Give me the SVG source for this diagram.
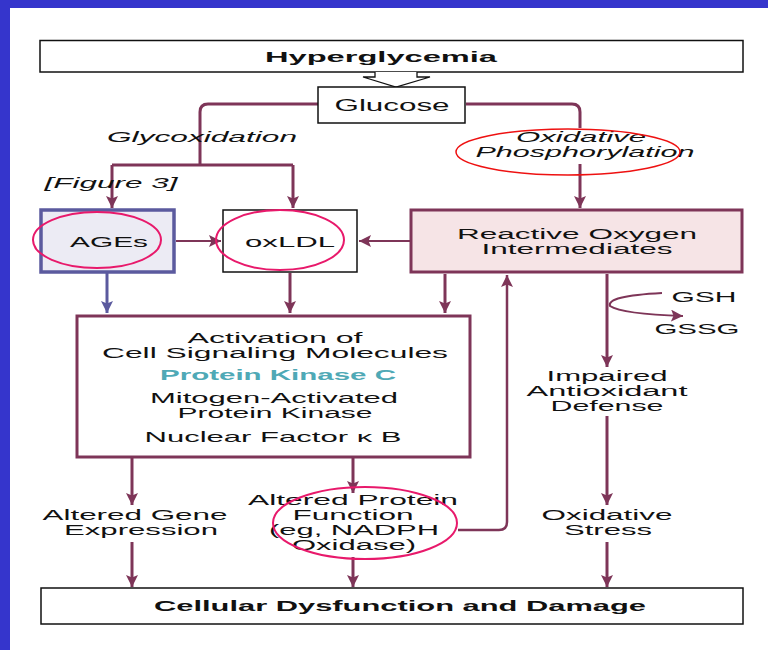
<svg xmlns="http://www.w3.org/2000/svg" width="768" height="650" viewBox="0 0 768 650">
<style>
text{font-family:"Liberation Sans",Arial,sans-serif;font-size:15px;fill:#111;text-anchor:middle}
.s{font-size:14px}
.b{font-weight:bold}
.i{font-style:italic}
.pkc{fill:#4fa9b6;font-weight:bold}
.c{fill:none;stroke:#7e3558;stroke-width:3}
.cb{fill:none;stroke:#5b5a9e;stroke-width:3}
.circ{fill:none;stroke:#e8196b;stroke-width:2}
.box{fill:#fff;stroke:#111;stroke-width:1.5}
</style>
<defs>
<marker id="a" markerUnits="userSpaceOnUse" markerWidth="13" markerHeight="13" refX="12" refY="6" orient="auto"><path d="M0,0 L12,6 L0,12 L2.5,6 z" fill="#7e3558"/></marker>
<marker id="ab" markerUnits="userSpaceOnUse" markerWidth="13" markerHeight="13" refX="12" refY="6" orient="auto"><path d="M0,0 L12,6 L0,12 L2.5,6 z" fill="#5b5a9e"/></marker>
</defs>
<rect x="0" y="0" width="768" height="650" fill="#fff"/>
<rect x="0" y="0" width="768" height="8" fill="#3535cc"/>
<rect x="0" y="0" width="10" height="650" fill="#3535cc"/>

<g id="connectors">
<path class="c" d="M318,104 H208 Q200,104 200,112 V165"/>
<path class="c" d="M112,165 H293"/>
<path class="c" d="M112,165 V208" marker-end="url(#a)"/>
<path class="c" d="M293,165 V208" marker-end="url(#a)"/>
<path class="c" d="M466,104 H572 Q580,104 580,112 V128"/>
<path class="c" d="M580,164 V208" marker-end="url(#a)"/>
<path class="c" style="stroke-width:2" d="M176,241 H221" marker-end="url(#a)"/>
<path class="c" style="stroke-width:2" d="M410,241 H359" marker-end="url(#a)"/>
<path class="cb" d="M107,273 V313" marker-end="url(#ab)"/>
<path class="c" d="M290,273 V313" marker-end="url(#a)"/>
<path class="c" d="M445,274 V313" marker-end="url(#a)"/>
<path class="c" d="M132,458 V505" marker-end="url(#a)"/>
<path class="c" d="M353,458 V493" marker-end="url(#a)"/>
<path class="c" style="stroke-width:2.5" d="M458,530 H499 Q507,530 507,522 V275" marker-end="url(#a)"/>
<path class="c" d="M607,274 V367" marker-end="url(#a)"/>
<path class="c" style="stroke-width:2" d="M662,293 Q606,296 610,306 Q622,314 683,316" marker-end="url(#a)"/>
<path class="c" d="M607,416 V505" marker-end="url(#a)"/>
<path class="c" d="M132,542 V587" marker-end="url(#a)"/>
<path class="c" d="M353,557 V587" marker-end="url(#a)"/>
<path class="c" d="M607,542 V587" marker-end="url(#a)"/>
</g>

<g id="hyperglycemia">
<rect class="box" x="40" y="40.5" width="703" height="31.5"/>
<text class="b" x="381" y="61.5" textLength="232" lengthAdjust="spacingAndGlyphs">Hyperglycemia</text>
</g>
<g id="hollow-arrow">
<path d="M375,72 V77 H363 L396,87 L430,77 H417 V72" fill="#fff" stroke="#111" stroke-width="1.3"/>
</g>
<g id="glucose">
<rect class="box" x="318" y="87" width="147" height="36"/>
<text x="392" y="110.5" textLength="115" lengthAdjust="spacingAndGlyphs" style="font-size:16px">Glucose</text>
</g>
<g id="glycoxidation">
<text class="i" x="202" y="142" textLength="190" lengthAdjust="spacingAndGlyphs">Glycoxidation</text>
</g>
<g id="figure3">
<text class="i" x="111" y="188" textLength="133" lengthAdjust="spacingAndGlyphs">[Figure 3]</text>
</g>
<g id="oxphos">
<text class="i s" x="581" y="142" textLength="130" lengthAdjust="spacingAndGlyphs">Oxidative</text>
<text class="i s" x="585" y="157" textLength="219" lengthAdjust="spacingAndGlyphs">Phosphorylation</text>
<ellipse cx="568" cy="152" rx="112" ry="23" fill="none" stroke="#ee1111" stroke-width="1.5"/>
</g>
<g id="ages">
<rect x="41" y="210" width="133" height="62" fill="#ecebf4" stroke="#5b5a9e" stroke-width="3.5"/>
<text x="109" y="246.5" textLength="78" lengthAdjust="spacingAndGlyphs">AGEs</text>
<ellipse class="circ" cx="97" cy="240" rx="64" ry="28"/>
</g>
<g id="oxldl">
<rect class="box" x="223" y="210" width="134" height="62"/>
<text x="290" y="246.5" textLength="90" lengthAdjust="spacingAndGlyphs">oxLDL</text>
<ellipse class="circ" cx="280" cy="240" rx="64" ry="30"/>
</g>
<g id="roi">
<rect x="411" y="210" width="331" height="62" fill="#f6e4e6" stroke="#7e3558" stroke-width="3"/>
<text class="s" x="577" y="239" textLength="240" lengthAdjust="spacingAndGlyphs">Reactive Oxygen</text>
<text class="s" x="577" y="254" textLength="191" lengthAdjust="spacingAndGlyphs">Intermediates</text>
</g>
<g id="activation">
<rect x="77" y="316" width="393" height="141" fill="#fff" stroke="#7e3558" stroke-width="3"/>
<text class="s" x="275" y="343" textLength="175" lengthAdjust="spacingAndGlyphs">Activation of</text>
<text class="s" x="275" y="358" textLength="346" lengthAdjust="spacingAndGlyphs">Cell Signaling Molecules</text>
<text class="pkc" x="278" y="380" textLength="236" lengthAdjust="spacingAndGlyphs">Protein Kinase C</text>
<text class="s" x="274" y="402.5" textLength="248" lengthAdjust="spacingAndGlyphs">Mitogen-Activated</text>
<text class="s" x="275" y="417.5" textLength="195" lengthAdjust="spacingAndGlyphs">Protein Kinase</text>
<text x="273" y="442" textLength="257" lengthAdjust="spacingAndGlyphs">Nuclear Factor κ B</text>
</g>
<g id="gsh">
<text x="704" y="302" textLength="65" lengthAdjust="spacingAndGlyphs">GSH</text>
<text x="697" y="334" textLength="85" lengthAdjust="spacingAndGlyphs">GSSG</text>
</g>
<g id="impaired">
<text class="s" x="607" y="381" textLength="121" lengthAdjust="spacingAndGlyphs">Impaired</text>
<text class="s" x="607" y="396" textLength="161" lengthAdjust="spacingAndGlyphs">Antioxidant</text>
<text class="s" x="607" y="411" textLength="113" lengthAdjust="spacingAndGlyphs">Defense</text>
</g>
<g id="gene">
<text class="s" x="135" y="519.5" textLength="185" lengthAdjust="spacingAndGlyphs">Altered Gene</text>
<text class="s" x="141" y="534.5" textLength="154" lengthAdjust="spacingAndGlyphs">Expression</text>
</g>
<g id="protein">
<text class="s" x="353" y="505" textLength="210" lengthAdjust="spacingAndGlyphs">Altered Protein</text>
<text class="s" x="353" y="520" textLength="121" lengthAdjust="spacingAndGlyphs">Function</text>
<text class="s" x="354" y="535" textLength="170" lengthAdjust="spacingAndGlyphs">(eg, NADPH</text>
<text class="s" x="354" y="550" textLength="124" lengthAdjust="spacingAndGlyphs">Oxidase)</text>
<ellipse class="circ" cx="365" cy="523" rx="92" ry="36"/>
</g>
<g id="stress">
<text class="s" x="607" y="520" textLength="131" lengthAdjust="spacingAndGlyphs">Oxidative</text>
<text class="s" x="608" y="535" textLength="88" lengthAdjust="spacingAndGlyphs">Stress</text>
</g>
<g id="cellular">
<rect class="box" x="41" y="588" width="702" height="36"/>
<text class="b" x="400" y="611" textLength="492" lengthAdjust="spacingAndGlyphs">Cellular Dysfunction and Damage</text>
</g>
</svg>
